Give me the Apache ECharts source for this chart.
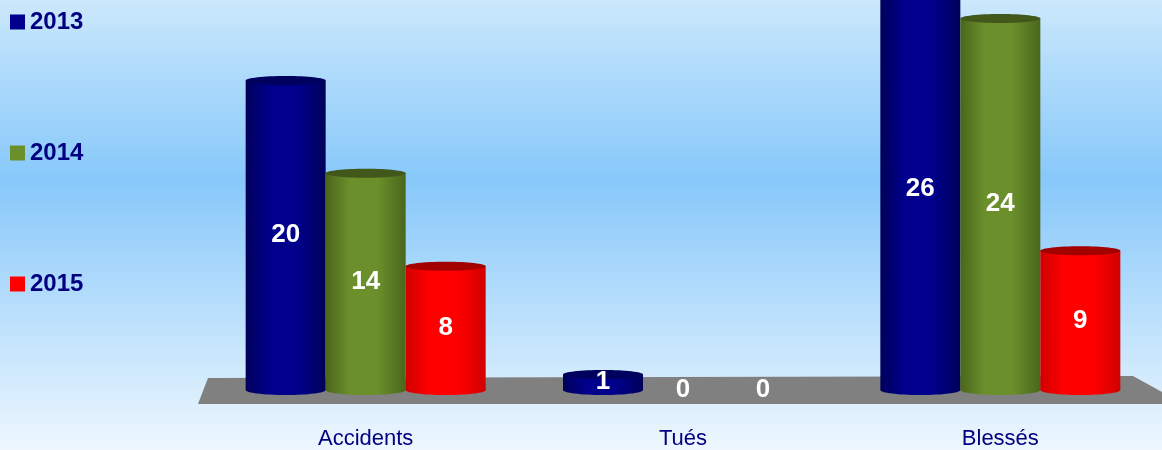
<!DOCTYPE html>
<html>
<head>
<meta charset="utf-8">
<title>Accidents, tués, blessés</title>
<script src="https://cdn.jsdelivr.net/npm/echarts@6/dist/echarts.min.js"></script>
<style>
	html, body { margin: 0; padding: 0; }
	#chart { width: 1162px; height: 450px; }
</style>
</head>
<body>
<div id="chart"></div>
<script>
	const categories = ['Accidents', 'Tués', 'Blessés']
	const years = ['2013', '2014', '2015']
	const values2013 = [20, 1, 26]
	const values2014 = [14, 0, 24]
	const values2015 = [8, 0, 9]

	// couleurs : [centre, bord, dessus]
	const palette = [
		['#00008c', '#00005a', '#00005e'],
		['#6b8f2b', '#4a661c', '#42581b'],
		['#ff0000', '#d00000', '#a30000']
	]
	const barWidth = 80

	function renderCylinder(params, api) {
		const cat = api.value(0)
		const val = api.value(1)
		const base = api.coord([cat, 0])
		const top = api.coord([cat, val])
		const cx = base[0] + (params.seriesIndex - 1) * barWidth
		const half = barWidth / 2
		const col = palette[params.seriesIndex]
		const children = []
		if (val > 0) {
			const body = new echarts.graphic.LinearGradient(0, 0, 1, 0, [
				{ offset: 0, color: col[1] },
				{ offset: 0.3, color: col[0] },
				{ offset: 0.65, color: col[0] },
				{ offset: 1, color: col[1] }
			])
			children.push({
				type: 'ellipse',
				shape: { cx: cx, cy: base[1], rx: half, ry: 5 },
				style: { fill: body }
			})
			children.push({
				type: 'rect',
				shape: { x: cx - half, y: top[1], width: barWidth, height: base[1] - top[1] },
				style: { fill: body }
			})
			children.push({
				type: 'ellipse',
				shape: { cx: cx, cy: top[1], rx: half, ry: 4.5 },
				style: { fill: col[2] }
			})
		}
		children.push({
			type: 'text',
			style: {
				text: String(val),
				x: cx,
				y: (base[1] + top[1]) / 2,
				align: 'center',
				verticalAlign: 'middle',
				fill: '#ffffff',
				font: 'bold 26px "Liberation Sans", Arial, sans-serif'
			}
		})
		return { type: 'group', children: children }
	}

	function makeSeries(name, values, idx) {
		return {
			name: name,
			type: 'custom',
			renderItem: renderCylinder,
			clip: false,
			itemStyle: { color: palette[idx][0] },
			encode: { x: 0, y: 1 },
			data: values.map((v, i) => [i, v])
		}
	}

	const chart = echarts.init(document.getElementById('chart'))
	chart.setOption({
		animation: false,
		backgroundColor: new echarts.graphic.LinearGradient(0, 0, 0, 1, [
			{ offset: 0, color: '#cbe8fc' },
			{ offset: 0.4, color: '#87c8fa' },
			{ offset: 1, color: '#eef7fe' }
		]),
		legend: {
			orient: 'vertical',
			left: 10,
			top: 10,
			padding: 0,
			itemWidth: 15,
			itemHeight: 15,
			itemGap: 107,
			icon: 'rect',
			textStyle: {
				color: '#000080',
				fontWeight: 'bold',
				fontSize: 24,
				fontFamily: '"Liberation Sans", Arial, sans-serif'
			},
			data: years
		},
		graphic: [{
			type: 'polygon',
			z: 0,
			shape: { points: [[208, 378], [1133, 376], [1184, 404], [198, 404]] },
			style: { fill: '#808080' }
		}],
		grid: { left: 207, right: 3, top: 0, bottom: 60 },
		xAxis: {
			type: 'category',
			data: categories,
			axisLine: { show: false },
			axisTick: { show: false },
			axisLabel: {
				margin: 38,
				color: '#000080',
				fontSize: 22,
				fontFamily: '"Liberation Sans", Arial, sans-serif'
			}
		},
		yAxis: {
			type: 'value',
			min: 0,
			max: 25.2,
			show: false,
			splitLine: { show: false }
		},
		series: [
			makeSeries(years[0], values2013, 0),
			makeSeries(years[1], values2014, 1),
			makeSeries(years[2], values2015, 2)
		]
	})
</script>
</body>
</html>
